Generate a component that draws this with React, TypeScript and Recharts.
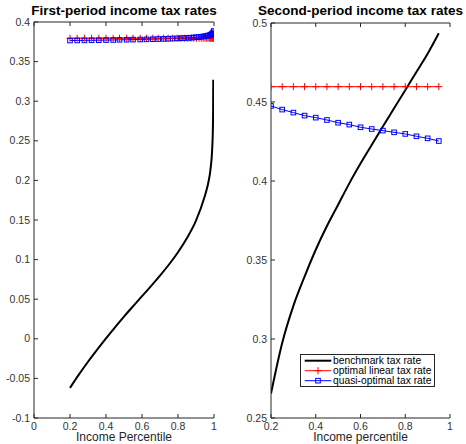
import { Legend, Line, LineChart, XAxis, YAxis } from "recharts";

// first period: percentile grid shared by the linear and quasi-optimal series
const firstGrid = [
  0.2, 0.24, 0.28, 0.32, 0.36, 0.4, 0.44, 0.475, 0.515, 0.55, 0.59, 0.625, 0.66,
  0.69, 0.72, 0.745, 0.77, 0.795, 0.815, 0.835, 0.855, 0.872, 0.888, 0.903,
  0.917, 0.929, 0.94, 0.95, 0.959, 0.967, 0.974, 0.98, 0.985, 0.989, 0.993,
  0.996, 0.999,
];
const firstLinear = firstGrid.map(() => 0.3795);
const firstQuasi = [
  0.3766, 0.3767, 0.3768, 0.3769, 0.377, 0.3772, 0.3773, 0.3775, 0.3776,
  0.3778, 0.3779, 0.3781, 0.3783, 0.3785, 0.3787, 0.3789, 0.3791, 0.3793,
  0.3795, 0.3797, 0.38, 0.3802, 0.3805, 0.3808, 0.3811, 0.3814, 0.3817, 0.382,
  0.3824, 0.3828, 0.3832, 0.3837, 0.3843, 0.385, 0.3858, 0.387, 0.3886,
];

// first period benchmark
const firstBenchX = [
  0.2, 0.25, 0.3, 0.35, 0.4, 0.45, 0.5, 0.55, 0.6, 0.65, 0.7, 0.75, 0.8, 0.85,
  0.9, 0.95, 0.96, 0.97, 0.98, 0.99, 0.993, 0.995, 0.996,
];
const firstBench = [
  -0.062, -0.045, -0.029, -0.014, 0.0005, 0.0145, 0.028, 0.041, 0.0538, 0.0666,
  0.0798, 0.0938, 0.1093, 0.1273, 0.1493, 0.181, 0.189, 0.199, 0.213, 0.24,
  0.258, 0.285, 0.327,
];

// second period
const secondGrid = [
  0.2, 0.25, 0.3, 0.35, 0.4, 0.45, 0.5, 0.55, 0.6, 0.65, 0.7, 0.75, 0.8, 0.85,
  0.9, 0.95,
];
const secondBench = [
  0.2655, 0.2975, 0.321, 0.3395, 0.3565, 0.3715, 0.385, 0.3985, 0.411, 0.4228,
  0.4345, 0.446, 0.4575, 0.469, 0.4805, 0.4935,
];
const secondLinear = secondGrid.map(() => 0.4597);
const secondQuasi = [
  0.4475, 0.4452, 0.4433, 0.4414, 0.4401, 0.4386, 0.4369, 0.4357, 0.434,
  0.4329, 0.4319, 0.4308, 0.4298, 0.4283, 0.427, 0.4253,
];

const firstXTicks = [0, 0.2, 0.4, 0.6, 0.8, 1];
const firstYTicks = [-0.1, -0.05, 0, 0.05, 0.1, 0.15, 0.2, 0.25, 0.3, 0.35, 0.4];
const secondXTicks = [0.2, 0.4, 0.6, 0.8, 1];
const secondYTicks = [0.25, 0.3, 0.35, 0.4, 0.45, 0.5];

const seriesNames = {
  bench: "benchmark tax rate",
  linear: "optimal linear tax rate",
  quasi: "quasi-optimal tax rate",
};

const zip = (xs: number[], ys: number[]) => xs.map((x, i) => ({ x, y: ys[i] }));

const AXIS = "#262626";
const TICK_LEN = 4;
const TICK_FONT = 10.5;
const TITLE_BASELINE = 14.5;
const fmt = (v: number) => String(Number(v.toFixed(2)));

function BottomTick({ x, y, payload }: any) {
  return (
    <g>
      <line x1={x} x2={x} y1={y} y2={y - TICK_LEN} stroke={AXIS} />
      <text x={x} y={y + 11.5} textAnchor="middle" fontSize={TICK_FONT} fill="#333">
        {fmt(payload.value)}
      </text>
    </g>
  );
}

function TopTick({ x, y }: any) {
  return <line x1={x} x2={x} y1={y} y2={y + TICK_LEN} stroke={AXIS} />;
}

function LeftTick({ x, y, payload }: any) {
  return (
    <g>
      <line x1={x} x2={x + TICK_LEN} y1={y} y2={y} stroke={AXIS} />
      <text x={x - 4} y={y} dy="0.35em" textAnchor="end" fontSize={TICK_FONT} fill="#333">
        {fmt(payload.value)}
      </text>
    </g>
  );
}

function RightTick({ x, y }: any) {
  return <line x1={x} x2={x - TICK_LEN} y1={y} y2={y} stroke={AXIS} />;
}

function Plus({ cx, cy }: any) {
  return (
    <g stroke="#ff0000" strokeWidth={1}>
      <line x1={cx - 3.5} x2={cx + 3.5} y1={cy} y2={cy} />
      <line x1={cx} x2={cx} y1={cy - 3.5} y2={cy + 3.5} />
    </g>
  );
}

function Square({ cx, cy }: any) {
  return (
    <rect x={cx - 2.3} y={cy - 2.3} width={4.6} height={4.6} fill="none" stroke="#0000ff" strokeWidth={1} />
  );
}

// MATLAB-style boxed axes: labelled bottom/left, tick-only top/right
function frame(
  top: number,
  xDomain: [number, number],
  yDomain: [number, number],
  xTicks: number[],
  yTicks: number[],
  yWidth: number,
  title: string,
  xLabel: string
) {
  const line = { stroke: AXIS, strokeWidth: 1 };
  return [
    <XAxis
      key="xb"
      dataKey="x"
      type="number"
      domain={xDomain}
      ticks={xTicks}
      allowDataOverflow
      height={26}
      tickSize={0}
      tickMargin={0}
      tickLine={false}
      axisLine={line}
      tick={<BottomTick />}
      interval={0}
      label={{ value: xLabel, position: "insideBottom", offset: 3, fontSize: 12, fill: "#262626" }}
    />,
    <XAxis
      key="xt"
      xAxisId="top"
      orientation="top"
      dataKey="x"
      type="number"
      domain={xDomain}
      ticks={xTicks}
      allowDataOverflow
      height={1}
      tickSize={0}
      tickMargin={0}
      tickLine={false}
      axisLine={line}
      tick={<TopTick />}
      interval={0}
      label={{
        value: title,
        position: "top",
        offset: top - TITLE_BASELINE,
        fontSize: 13.5,
        fontWeight: "bold",
        fill: "#000",
      }}
    />,
    <YAxis
      key="yl"
      type="number"
      domain={yDomain}
      ticks={yTicks}
      allowDataOverflow
      width={yWidth}
      tickSize={0}
      tickMargin={0}
      tickLine={false}
      axisLine={line}
      tick={<LeftTick />}
      interval={0}
    />,
    <YAxis
      key="yr"
      yAxisId="right"
      orientation="right"
      type="number"
      domain={yDomain}
      ticks={yTicks}
      allowDataOverflow
      width={0}
      tickSize={0}
      tickMargin={0}
      tickLine={false}
      axisLine={line}
      tick={<RightTick />}
      interval={0}
    />,
  ];
}

function LegendBox({ payload }: any) {
  const marks: Record<string, (cx: number, cy: number) => any> = {
    [seriesNames.bench]: () => null,
    [seriesNames.linear]: (cx, cy) => <Plus cx={cx} cy={cy} />,
    [seriesNames.quasi]: (cx, cy) => <Square cx={cx} cy={cy} />,
  };
  return (
    <svg width={135} height={33} style={{ display: "block" }}>
      <rect x={0.5} y={0.5} width={134} height={32} fill="#fff" stroke={AXIS} />
      {(payload || []).map((entry: any, i: number) => {
        const cy = 6.7 + i * 10;
        const stroke = entry.color;
        return (
          <g key={entry.value}>
            <line
              x1={4.7}
              x2={31.3}
              y1={cy}
              y2={cy}
              stroke={stroke}
              strokeWidth={entry.value === seriesNames.bench ? 2 : 1}
            />
            {marks[entry.value]?.(18, cy)}
            <text x={33} y={cy} dy="0.35em" fontSize={10.3} fill="#000">
              {entry.value}
            </text>
          </g>
        );
      })}
    </svg>
  );
}

export default function App() {
  return (
    <div
      style={{
        position: "absolute",
        left: 0,
        top: 0,
        width: 466,
        height: 444,
        background: "#fff",
        fontFamily: '"Liberation Sans", Arial, Helvetica, sans-serif',
      }}
    >
      <div style={{ position: "absolute", left: 0, top: 0 }}>
        <LineChart width={233} height={444} margin={{ top: 21, right: 19, bottom: 0, left: 0 }}>
          {frame(21, [0, 1], [-0.1, 0.4], firstXTicks, firstYTicks, 34, "First-period income tax rates", "Income Percentile")}
          <Line
            data={zip(firstBenchX, firstBench)}
            dataKey="y"
            name={seriesNames.bench}
            type="monotone"
            stroke="#000"
            strokeWidth={2}
            dot={false}
            isAnimationActive={false}
          />
          <Line
            data={zip(firstGrid, firstLinear)}
            dataKey="y"
            name={seriesNames.linear}
            stroke="#ff0000"
            strokeWidth={1}
            dot={(p: any) => <Plus key={p.index} cx={p.cx} cy={p.cy} />}
            isAnimationActive={false}
          />
          <Line
            data={zip(firstGrid, firstQuasi)}
            dataKey="y"
            name={seriesNames.quasi}
            stroke="#0000ff"
            strokeWidth={1}
            dot={(p: any) => <Square key={p.index} cx={p.cx} cy={p.cy} />}
            isAnimationActive={false}
          />
        </LineChart>
      </div>
      <div style={{ position: "absolute", left: 233, top: 0 }}>
        <LineChart width={233} height={444} margin={{ top: 22, right: 16, bottom: 0, left: 0 }}>
          {frame(22, [0.2, 1], [0.25, 0.5], secondXTicks, secondYTicks, 38, "Second-period income tax rates", "Income  percentile")}
          <Line
            data={zip(secondGrid, secondBench)}
            dataKey="y"
            name={seriesNames.bench}
            type="monotone"
            stroke="#000"
            strokeWidth={2}
            dot={false}
            isAnimationActive={false}
          />
          <Line
            data={zip(secondGrid, secondLinear)}
            dataKey="y"
            name={seriesNames.linear}
            stroke="#ff0000"
            strokeWidth={1}
            dot={(p: any) => <Plus key={p.index} cx={p.cx} cy={p.cy} />}
            isAnimationActive={false}
          />
          <Line
            data={zip(secondGrid, secondQuasi)}
            dataKey="y"
            name={seriesNames.quasi}
            stroke="#0000ff"
            strokeWidth={1}
            dot={(p: any) => <Square key={p.index} cx={p.cx} cy={p.cy} />}
            isAnimationActive={false}
          />
          <Legend
            layout="vertical"
            align="center"
            verticalAlign="middle"
            content={<LegendBox />}
            wrapperStyle={{ left: 67, top: 354, width: 135, height: 33 }}
          />
        </LineChart>
      </div>
    </div>
  );
}
